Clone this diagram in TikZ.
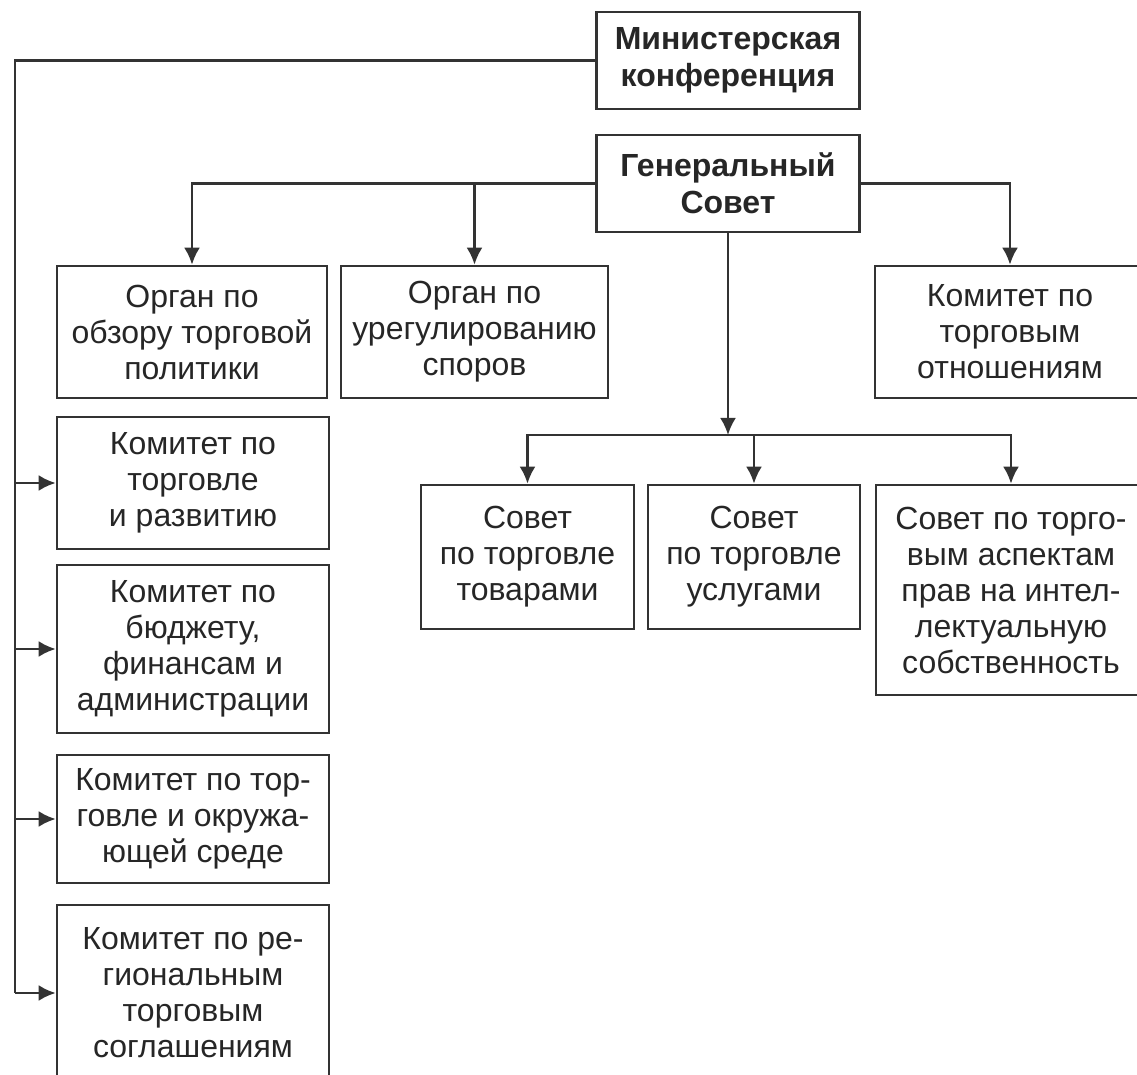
\documentclass[tikz,border=0pt]{standalone}
\usepackage{fontspec}
\setmainfont{Liberation Sans}
\usetikzlibrary{
  arrows.meta,
  chains,
  positioning,
  scopes
}

\begin{document}
\begin{tikzpicture}[
      x=0.5pt,y=-0.5pt,
      box/.style={
         rectangle,
         line width=1.3pt,
         draw=black!80,
         text=black!85,
         align=center,
         inner sep=0pt,
         font=\fontsize{16}{18}\selectfont
      },
      head/.style={
         box,
         font=\bfseries\fontsize{16}{18.5}\selectfont
      },
      point/.style={coordinate},>={Latex[length=8.5pt,width=8pt]},line width=1.3pt,draw=black!80,
      tip/.style={->,shorten >=0.007pt},
      hv path/.style={to path={-| (\tikztotarget)}},
      vh path/.style={to path={|- (\tikztotarget)}}
    ]
    \useasboundingbox (0,0) rectangle (1137,1075);
    % top
    \node (min) [head, minimum width=131.5pt, minimum height=48.5pt] at (728,60.5) {Министерская\\конференция};
    \node (gen) [head, minimum width=131.5pt, minimum height=48.5pt] at (728,183.5) {Генеральный\\Совет};
    % first row
    \node (obzor) [box, minimum width=135pt, minimum height=66pt] at (192,332) {Орган по\\обзору торговой\\политики};
    \node (spor) [box, minimum width=133.5pt, minimum height=66pt] at (474.5,332) {Орган по\\урегулированию\\споров};
    \node (otnosh) [box, minimum width=135pt, minimum height=66pt] at (1010,332) {Комитет по\\торговым\\отношениям};
    % left column
    \node (razv) [box, minimum width=136pt, minimum height=66pt] at (193,483) {Комитет по\\торговле\\и развитию};
    \node (budzh) [box, minimum width=136pt, minimum height=84pt] at (193,649) {Комитет по\\бюджету,\\финансам и\\администрации};
    \node (sreda) [box, minimum width=136pt, minimum height=64pt] at (193,819) {Комитет по тор-\\говле и окружа-\\ющей среде};
    \node (region) [box, minimum width=136pt, minimum height=88pt] at (193,993) {Комитет по ре-\\гиональным\\торговым\\соглашениям};
    % councils
    \node (tovar) [box, minimum width=106.5pt, minimum height=72pt] at (527.5,557) {Совет\\по торговле\\товарами};
    \node (uslug) [box, minimum width=106pt, minimum height=72pt] at (754,557) {Совет\\по торговле\\услугами};
    \node (trips) [box, minimum width=135pt, minimum height=105pt] at (1011,590) {Совет по торго-\\вым аспектам\\прав на интел-\\лектуальную\\собственность};
    % bus points
    \node (bus) [point] at (728,435) {};
    \node (l1) [point] at (15,483) {};
    \node (l2) [point] at (15,649) {};
    \node (l3) [point] at (15,819) {};
    \node (l4) [point] at (15,993) {};
  { [start chain]
       \chainin (min);
       \chainin (l4)    [join=by hv path];
       \chainin (region)    [join=by tip];
  }
  { [start chain]
       \chainin (l1);
       \chainin (razv)    [join=by tip];
  }
  { [start chain]
       \chainin (l2);
       \chainin (budzh)    [join=by tip];
  }
  { [start chain]
       \chainin (l3);
       \chainin (sreda)    [join=by tip];
  }
  { [start chain]
       \chainin (gen);
       \chainin (obzor)    [join=by {hv path,tip}];
  }
  { [start chain]
       \chainin (gen);
       \chainin (spor)    [join=by {hv path,tip}];
  }
  { [start chain]
       \chainin (gen);
       \chainin (otnosh)    [join=by {hv path,tip}];
  }
  { [start chain]
       \chainin (gen);
       \chainin (bus)    [join=by tip];
       \chainin (tovar)    [join=by {hv path,tip}];
  }
  { [start chain]
       \chainin (bus);
       \chainin (uslug)    [join=by {hv path,tip}];
  }
  { [start chain]
       \chainin (bus);
       \chainin (trips)    [join=by {hv path,tip}];
  }
\end{tikzpicture}
\end{document}
